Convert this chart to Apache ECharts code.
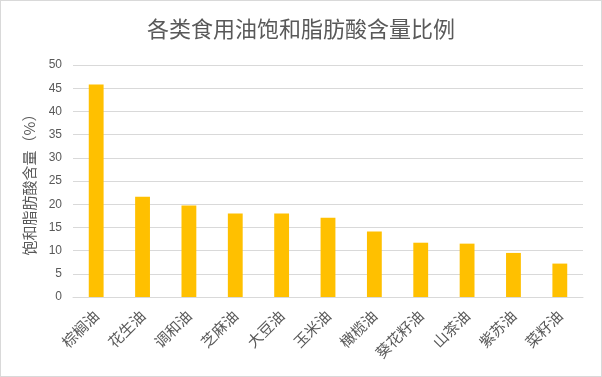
<!DOCTYPE html>
<html>
<head>
<meta charset="utf-8">
<script src="https://cdn.jsdelivr.net/npm/echarts@6/dist/echarts.min.js"></script>
<style>
html,body{margin:0;padding:0;background:#fff;}
#wrap{position:absolute;left:0;top:0;width:600px;height:375px;border:1px solid #d9d9d9;}
#chart{position:absolute;left:0;top:0;width:602px;height:377px;}
</style>
</head>
<body>
<div id="wrap"></div>
<div id="chart"></div>
<script>
const titleText = '各类食用油饱和脂肪酸含量比例';
const yAxisName = '饱和脂肪酸含量（%）';
const categories = ['棕榈油','花生油','调和油','芝麻油','大豆油','玉米油','橄榄油','葵花籽油','山茶油','紫苏油','菜籽油'];
const values = [45.8, 21.6, 19.7, 18.0, 18.0, 17.1, 14.1, 11.7, 11.5, 9.5, 7.2];

const chart = echarts.init(document.getElementById('chart'), null, {renderer:'canvas'});
chart.setOption({
  backgroundColor: 'transparent',
  animation: false,
  title: {
    text: titleText,
    left: 'center',
    top: 13,
    textStyle: {color:'#595959', fontSize: 22, fontWeight:'normal', fontFamily:'Noto Sans CJK SC'}
  },
  grid: {left: 73, right: 19, top: 65, bottom: 80, containLabel: false},
  xAxis: {
    type: 'category',
    data: categories,
    axisLine: {lineStyle:{color:'#d9d9d9', width:1}},
    axisTick: {show:false},
    axisLabel: {rotate: 45, color:'#595959', fontSize: 15, margin: 16, interval: 0, fontFamily:'Noto Sans CJK SC'}
  },
  yAxis: {
    type: 'value',
    min: 0, max: 50, interval: 5,
    name: yAxisName,
    nameLocation: 'middle',
    nameGap: 36,
    nameTextStyle: {color:'#595959', fontSize: 15, fontFamily:'Noto Sans CJK SC'},
    axisLine: {show:false},
    axisTick: {show:false},
    axisLabel: {color:'#595959', fontSize: 12, margin: 11, fontFamily:'Liberation Sans'},
    splitLine: {lineStyle:{color:'#d9d9d9', width:1}}
  },
  series: [{
    type: 'bar',
    data: values,
    barWidth: '32%',
    itemStyle: {color:'#ffc000'}
  }]
});
</script>
</body>
</html>
